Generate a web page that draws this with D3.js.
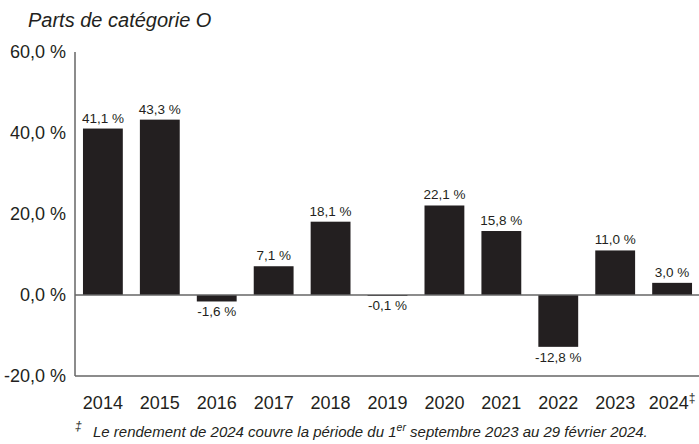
<!DOCTYPE html>
<html>
<head>
<meta charset="utf-8">
<style>
  body { margin: 0; background: #fff; }
  svg text { font-family: "Liberation Sans Narrow", "Arial Narrow", "Liberation Sans", sans-serif; fill: #231f20; }
</style>
</head>
<body>
<svg id="chart" width="699" height="444"></svg>
<script src="https://cdn.jsdelivr.net/npm/d3@7"></script>
<script>
const years = ["2014", "2015", "2016", "2017", "2018", "2019", "2020", "2021", "2022", "2023", "2024"]
const returns = [41.1, 43.3, -1.6, 7.1, 18.1, -0.1, 22.1, 15.8, -12.8, 11.0, 3.0]
const yTicks = [60, 40, 20, 0, -20]

const svg = d3.select("#chart")
const plotLeft = 75, plotRight = 700, plotTop = 52, plotBottom = 376

const x = d3.scaleBand().domain(years).range([plotLeft, plotRight]).paddingInner(0.3).paddingOuter(0.14)
const y = d3.scaleLinear().domain([-20, 60]).range([plotBottom, plotTop])

const fmt = v => v.toFixed(1).replace(".", ",") + " %"

// title
svg.append("text")
    .attr("x", 28).attr("y", 27)
    .attr("font-size", 20).attr("font-style", "italic")
    .text("Parts de catégorie O")

// y tick labels
svg.append("g").selectAll("text")
    .data(yTicks).enter().append("text")
    .attr("x", 66).attr("y", d => y(d))
    .attr("dy", "0.35em")
    .attr("text-anchor", "end")
    .attr("font-size", 18)
    .text(d => fmt(d))

// bars
svg.append("g").selectAll("rect")
    .data(returns).enter().append("rect")
    .attr("x", (d, i) => x(years[i]))
    .attr("width", x.bandwidth())
    .attr("y", d => y(Math.max(0, d)))
    .attr("height", d => Math.max(1, Math.abs(y(d) - y(0))))
    .attr("fill", "#231f20")

// axes lines
svg.append("line").attr("x1", plotLeft).attr("x2", plotLeft).attr("y1", plotTop).attr("y2", plotBottom)
    .attr("stroke", "#666").attr("stroke-width", 1.5)
svg.append("line").attr("x1", plotLeft).attr("x2", 699).attr("y1", y(0)).attr("y2", y(0))
    .attr("stroke", "#666").attr("stroke-width", 1.5)
svg.append("line").attr("x1", plotLeft).attr("x2", 699).attr("y1", plotBottom).attr("y2", plotBottom)
    .attr("stroke", "#666").attr("stroke-width", 1.5)

// value labels
svg.append("g").selectAll("text")
    .data(returns).enter().append("text")
    .attr("x", (d, i) => x(years[i]) + x.bandwidth() / 2)
    .attr("y", d => d >= 0 ? y(d) - 6 : y(d) + 15)
    .attr("text-anchor", "middle")
    .attr("font-size", 13.5)
    .text(d => fmt(d))

// x labels
const xl = svg.append("g").selectAll("text")
    .data(years).enter().append("text")
    .attr("x", d => x(d) + x.bandwidth() / 2)
    .attr("y", 409)
    .attr("text-anchor", "middle")
    .attr("font-size", 18)
xl.append("tspan").text(d => d)
xl.filter(d => d === "2024").append("tspan")
    .attr("font-size", 12).attr("dy", -7).text("‡")

// footnote
svg.append("text").attr("x", 75).attr("y", 430).attr("font-size", 12).attr("font-style", "italic").text("‡")
const fn = svg.append("text").attr("x", 93).attr("y", 437)
    .attr("font-size", 15).attr("font-style", "italic")
fn.append("tspan").text("Le rendement de 2024 couvre la période du 1")
fn.append("tspan").attr("font-size", 10.5).attr("dy", -6).text("er")
fn.append("tspan").attr("dy", 6).text(" septembre 2023 au 29 février 2024.")
</script>
</body>
</html>
